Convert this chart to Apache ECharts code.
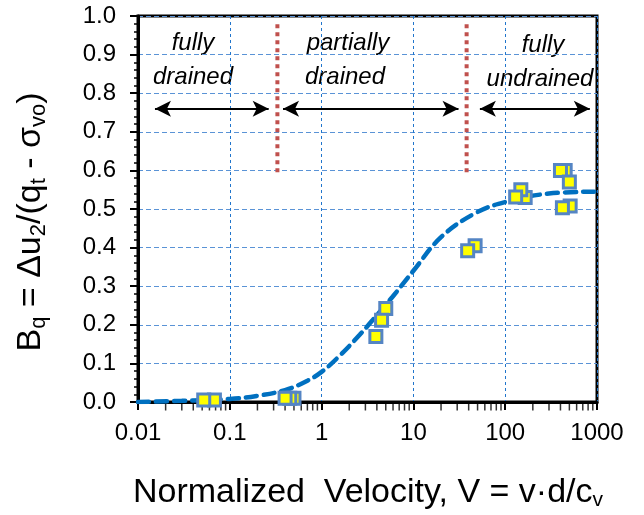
<!DOCTYPE html>
<html>
<head>
<meta charset="utf-8">
<script src="https://cdn.jsdelivr.net/npm/echarts@6/dist/echarts.min.js"></script>
<style>html,body{margin:0;padding:0;background:#fff}#c{width:644px;height:515px}</style>
</head>
<body>
<div id="c"></div>
<script>
// ---- data ----
var xTickLabels = ['0.01', '0.1', '1', '10', '100', '1000'];
var pointV  = [0.068, 0.052, 0.50, 0.45, 0.40, 5.0, 4.5, 3.9, 47, 39, 165, 148, 130, 450, 400, 510, 500, 420];
var pointBq = [0.005, 0.005, 0.010, 0.010, 0.010, 0.242, 0.212, 0.170, 0.405, 0.392, 0.530, 0.550, 0.531, 0.600, 0.600, 0.508, 0.570, 0.503];
var curveV  = [0.01, 0.03, 0.1, 0.2, 0.4, 0.7, 1, 1.5, 2.6, 4, 5.9, 10, 20, 48, 100, 300, 1000];
var curveBq = [0.0, 0.003, 0.008, 0.016, 0.031, 0.055, 0.078, 0.115, 0.174, 0.225, 0.272, 0.340, 0.427, 0.490, 0.518, 0.540, 0.545];
var boundaryV = [0.33, 38];
var boundaryBq = [0.595, 0.98];
var arrowStartV = [0.0153, 0.38, 53];
var arrowEndV   = [0.265, 31, 835];
var arrowBq = 0.76;
var minorMult = [2, 3, 4, 5, 6, 7, 8, 9];
var decades = [0.01, 0.1, 1, 10, 100];

var FONT = "'Liberation Sans', Arial, sans-serif";
var chart = echarts.init(document.getElementById('c'), null, {renderer: 'canvas'});

var points = pointV.map(function (v, i) { return [v, pointBq[i]]; });
var curve = curveV.map(function (v, i) { return [v, curveBq[i]]; });
var minorTicks = [];
decades.forEach(function (d) { minorMult.forEach(function (m) { minorTicks.push([d * m, 0]); }); });

var boundarySeries = boundaryV.map(function (v) {
  return {
    type: 'line', data: [[v, boundaryBq[0]], [v, boundaryBq[1]]], symbol: 'none', silent: true,
    lineStyle: {color: '#c0504d', width: 4, type: [4, 4]}, z: 3
  };
});

var arrowLines = arrowStartV.map(function (v, i) {
  return [{coord: [v, arrowBq]}, {coord: [arrowEndV[i], arrowBq]}];
});

var italic = 'italic 24px ' + FONT;
function lbl(x, y, t) {
  return {type: 'text', x: x, y: y, style: {text: t, font: italic, fill: '#000', align: 'center', verticalAlign: 'middle'}};
}

var option = {
  animation: false,
  backgroundColor: '#fff',
  grid: {left: 138, right: 47, top: 16, bottom: 113, show: true, borderColor: '#000', borderWidth: 3, backgroundColor: 'transparent'},
  xAxis: {
    type: 'log', logBase: 10, min: 0.01, max: 1000,
    axisLine: {show: true, onZero: false, lineStyle: {color: '#000', width: 3}},
    axisTick: {show: true, length: 8, lineStyle: {color: '#000', width: 2}},
    axisLabel: {
      color: '#000', fontFamily: FONT, fontSize: 24, margin: 19,
      formatter: function (val, idx) { return xTickLabels[idx] !== undefined ? xTickLabels[idx] : ''; }
    },
    splitLine: {show: true, lineStyle: {color: '#2075cc', width: 1, type: [3, 3]}}
  },
  yAxis: {
    type: 'value', min: 0, max: 1, interval: 0.1,
    axisLine: {show: true, onZero: false, lineStyle: {color: '#000', width: 3}},
    axisTick: {show: true, length: 8, lineStyle: {color: '#000', width: 2}},
    minorTick: {show: true, splitNumber: 5, length: 4, lineStyle: {color: '#000', width: 1.5}},
    axisLabel: {color: '#000', fontFamily: FONT, fontSize: 24, margin: 22,
      formatter: function (v) { return v.toFixed(1); }},
    splitLine: {show: true, lineStyle: {color: '#5a93d6', width: 1, type: [5, 3]}}
  },
  series: [
    {
      type: 'scatter', data: minorTicks, symbol: 'rect', symbolSize: [1.5, 7], symbolOffset: [0, 5],
      itemStyle: {color: '#000'}, clip: false, silent: true, z: 1
    }
  ].concat(boundarySeries).concat([
    {
      type: 'line', data: [], symbol: 'none', silent: true,
      markLine: {
        silent: true, symbol: ['arrow', 'arrow'], symbolSize: [12, 16],
        label: {show: false},
        lineStyle: {color: '#000', width: 2, type: 'solid'},
        data: arrowLines
      }
    },
    {
      type: 'line', data: curve, smooth: 0.4, symbol: 'none', silent: true,
      lineStyle: {color: '#0070c0', width: 4.5, type: [11, 7], cap: 'round'}, z: 4
    },
    {
      type: 'scatter', data: points, symbol: 'rect', symbolSize: 12, clip: false,
      itemStyle: {color: '#ffff00', borderColor: '#5585c4', borderWidth: 3, opacity: 1}, z: 5
    }
  ]),
  graphic: [
    lbl(193, 43, 'fully'), lbl(193, 77, 'drained'),
    lbl(348, 43, 'partially'), lbl(345, 77, 'drained'),
    lbl(543, 45, 'fully'), lbl(540, 79, 'undrained'),
    {
      type: 'text', x: 31, y: 222, rotation: Math.PI / 2,
      style: {
        text: 'B{s|q} = Δu{s|2}/(q{s|t} - σ{s|vo})',
        font: '34px ' + FONT, fill: '#000', align: 'center', verticalAlign: 'middle',
        rich: {s: {fontSize: 22, fontFamily: FONT, fill: '#000', padding: [15, 0, 0, 0]}}
      }
    },
    {
      type: 'text', x: 368, y: 493,
      style: {
        text: 'Normalized  Velocity, V = v·d/c{s|v}',
        font: '34px ' + FONT, fill: '#000', align: 'center', verticalAlign: 'middle',
        rich: {s: {fontSize: 21, fontFamily: FONT, fill: '#000', padding: [15, 0, 0, 0]}}
      }
    }
  ]
};
chart.setOption(option);
</script>
</body>
</html>
